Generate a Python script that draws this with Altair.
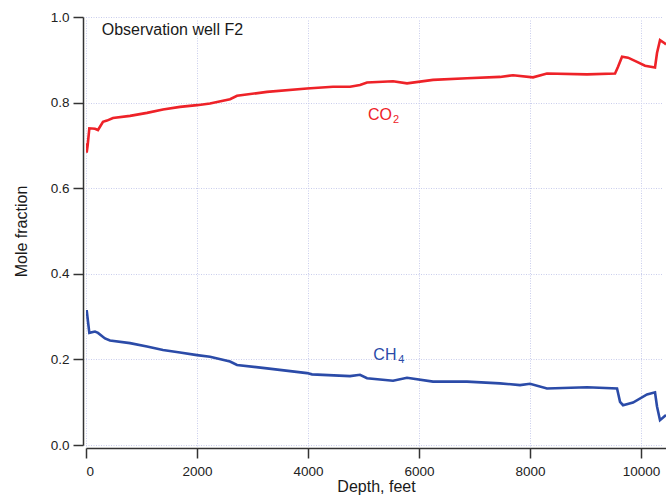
import altair as alt
import pandas as pd

# Gas composition logged down observation well F2
co2_depth = [0, 12, 30, 60, 162, 216, 306, 378, 486, 793, 1099, 1387, 1694, 2000,
             2234, 2595, 2721, 3261, 3982, 4450, 4757, 4937, 5063, 5532, 5784, 6252,
             6865, 7459, 7694, 8054, 8306, 9027, 9532, 9586, 9658, 9766, 9928, 10072,
             10252, 10288, 10342, 10432, 10450]
co2_frac = [0.705, 0.683, 0.700, 0.740, 0.739, 0.736, 0.755, 0.758, 0.764, 0.769, 0.776,
            0.784, 0.790, 0.794, 0.798, 0.808, 0.816, 0.825, 0.833, 0.837, 0.837, 0.841,
            0.847, 0.850, 0.845, 0.853, 0.857, 0.860, 0.864, 0.859, 0.868, 0.866, 0.868,
            0.884, 0.907, 0.905, 0.895, 0.886, 0.882, 0.916, 0.946, 0.938, 0.936]

ch4_depth = [0, 12, 60, 162, 216, 342, 432, 793, 1099, 1387, 1694, 2000, 2234, 2595,
             2721, 3261, 3982, 4072, 4757, 4937, 5063, 5532, 5784, 6252, 6865, 7459,
             7820, 8000, 8306, 9027, 9568, 9622, 9676, 9856, 10108, 10252, 10288, 10342,
             10450]
ch4_frac = [0.300, 0.315, 0.262, 0.265, 0.262, 0.249, 0.244, 0.238, 0.230, 0.222, 0.216,
            0.210, 0.206, 0.195, 0.187, 0.179, 0.168, 0.165, 0.161, 0.164, 0.156, 0.150,
            0.157, 0.148, 0.148, 0.144, 0.140, 0.143, 0.132, 0.135, 0.132, 0.101, 0.093,
            0.099, 0.118, 0.123, 0.090, 0.058, 0.070]

x_ticks = [0, 2000, 4000, 6000, 8000, 10000]
y_ticks = [0.0, 0.2, 0.4, 0.6, 0.8, 1.0]

RED = "#ee2228"
BLUE = "#2b4ba8"
FONT = "Liberation Sans"

co2 = pd.DataFrame({"depth": co2_depth, "frac": co2_frac})
ch4 = pd.DataFrame({"depth": ch4_depth, "frac": ch4_frac})

x_scale = alt.Scale(domain=[0, 10450], nice=False, zero=False)
y_scale = alt.Scale(domain=[0, 1], nice=False)

x_enc = alt.X(
    "depth:Q", scale=x_scale,
    axis=alt.Axis(values=x_ticks, format="d", title="Depth, feet",
                  titleX=290, titleY=43, titleBaseline="alphabetic",
                  titleAnchor="middle", titleAlign="center"),
)
y_enc = alt.Y(
    "frac:Q", scale=y_scale,
    axis=alt.Axis(values=y_ticks, format=".1f", title="Mole fraction",
                  titleX=-57, titleY=214, titleBaseline="alphabetic",
                  titleAlign="center", titleAngle=270),
)

co2_line = alt.Chart(co2).mark_line(color=RED, strokeWidth=2.6, clip=True).encode(
    x=x_enc, y=y_enc)
ch4_line = alt.Chart(ch4).mark_line(color=BLUE, strokeWidth=2.6, clip=True).encode(
    x=x_enc, y=y_enc)

# Series labels with subscripts, plus the well name
labels = pd.DataFrame({
    "depth": [5081, 5177],
    "frac": [0.759, 0.199],
    "main": ["CO", "CH"],
    "sub": ["2", "4"],
    "color": [RED, BLUE],
})
main_text = alt.Chart(labels).mark_text(
    align="left", baseline="alphabetic", fontSize=16, font=FONT
).encode(x="depth:Q", y="frac:Q", text="main:N",
         color=alt.Color("color:N", scale=None))
sub_text = alt.Chart(labels).mark_text(
    align="left", baseline="alphabetic", fontSize=11, font=FONT, dx=25, dy=3
).encode(x="depth:Q", y="frac:Q", text="sub:N",
         color=alt.Color("color:N", scale=None))

well = pd.DataFrame({"depth": [283], "frac": [0.959], "label": ["Observation well F2"]})
well_text = alt.Chart(well).mark_text(
    align="left", baseline="alphabetic", fontSize=16, font=FONT, color="#1a1a1a"
).encode(x="depth:Q", y="frac:Q", text="label:N")

chart = alt.layer(co2_line, ch4_line, main_text, sub_text, well_text).properties(
    width=580, height=428,
    autosize=alt.AutoSizeParams(type="none"),
    padding={"left": 86, "top": 17, "right": 0, "bottom": 57},
).configure_view(stroke=None).configure_axis(
    labelFont=FONT, titleFont=FONT,
    labelFontSize=13.5, titleFontSize=16,
    labelColor="#222222", titleColor="#1a1a1a", titleFontWeight="normal",
    domainColor="#333333", domainWidth=1.5,
    tickColor="#333333", tickWidth=1.5, tickSize=10,
    labelPadding=4, offset=3,
    grid=True, gridColor="#c9cdec", gridDash=[1, 1.5], gridWidth=1,
).configure_axisX(labelPadding=6)

chart.save("out.html", embed_options={"renderer": "svg", "actions": False})
